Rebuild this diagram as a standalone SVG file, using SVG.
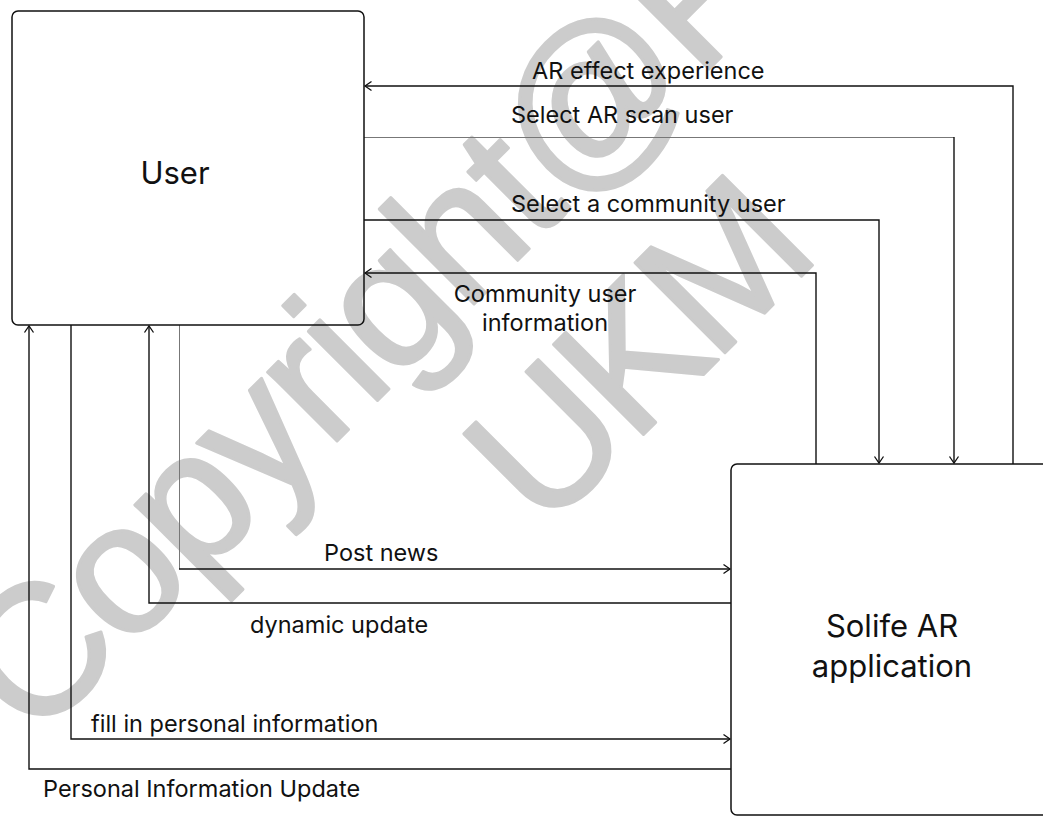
<svg xmlns="http://www.w3.org/2000/svg" width="1043" height="817" viewBox="0 0 1043 817">
<style>
.box{fill:none;stroke:#111;stroke-width:1.5}
.con{fill:none;stroke:#111;stroke-width:1.4}
.thin{fill:none;stroke:#777;stroke-width:1}
.lbl{font-family:Inter,"Liberation Sans",sans-serif;font-size:23.5px;fill:#111}
.big{font-family:Inter,"Liberation Sans",sans-serif;font-size:31px;fill:#111;text-anchor:middle}
.wm{font-family:"Liberation Sans",Arial,sans-serif;font-size:185px;fill:#cccccc;stroke:#cccccc;stroke-width:3;stroke-linejoin:round}
</style>
<defs>
<marker id="arr" markerUnits="userSpaceOnUse" markerWidth="12" markerHeight="12" refX="8" refY="6" orient="auto">
<path d="M1.5,1.5 L8,6 L1.5,10.5" fill="none" stroke="#111" stroke-width="1.3"/>
</marker>
</defs>
<rect width="1043" height="817" fill="#ffffff"/>
<g id="watermark" transform="translate(34,744) rotate(-45)">
<text class="wm" x="0" y="0" letter-spacing="-4">Copyright@FTSM</text>
<text class="wm" x="509" y="212" letter-spacing="-8">UKM</text>
</g>
<g id="connectors">
<path class="con" d="M1013,464 V86 H365" marker-end="url(#arr)"/>
<path class="thin" d="M364,137.5 H954"/>
<path class="con" d="M954,137 V463" marker-end="url(#arr)"/>
<path class="con" d="M364,220 H879 V463" marker-end="url(#arr)"/>
<path class="con" d="M816,464 V273 H365" marker-end="url(#arr)"/>
<path class="thin" d="M179.5,325 V569"/>
<path class="con" d="M179,569 H730" marker-end="url(#arr)"/>
<path class="con" d="M731,603 H149 V326" marker-end="url(#arr)"/>
<path class="con" d="M71,325 V739 H730" marker-end="url(#arr)"/>
<path class="con" d="M731,769 H29 V326" marker-end="url(#arr)"/>
<text class="lbl" x="532" y="79">AR effect experience</text>
<text class="lbl" x="511" y="123">Select AR scan user</text>
<text class="lbl" x="511" y="212">Select a community user</text>
<text class="lbl" x="545" y="302" text-anchor="middle">Community user</text>
<text class="lbl" x="545" y="331" text-anchor="middle">information</text>
<text class="lbl" x="324" y="561">Post news</text>
<text class="lbl" x="250" y="633">dynamic update</text>
<text class="lbl" x="91" y="732">fill in personal information</text>
<text class="lbl" x="43" y="797">Personal Information Update</text>
</g>
<g id="user">
<rect class="box" x="12" y="11" width="352" height="314" rx="6"/>
<text class="big" x="175" y="184">User</text>
</g>
<g id="solife">
<rect class="box" x="731" y="464" width="340" height="351" rx="6"/>
<text class="big" x="892" y="637">Solife AR</text>
<text class="big" x="892" y="677">application</text>
</g>
</svg>
